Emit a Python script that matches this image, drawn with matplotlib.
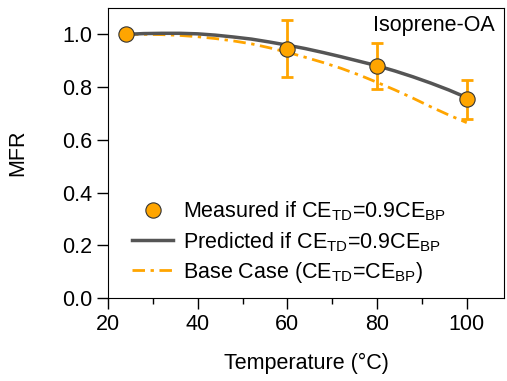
import matplotlib
matplotlib.use('Agg')
import matplotlib.pyplot as plt
from matplotlib.ticker import MultipleLocator, FormatStrFormatter

plt.rcParams['font.family'] = ['Liberation Sans', 'DejaVu Sans']
plt.rcParams['mathtext.fontset'] = 'custom'
plt.rcParams['mathtext.rm'] = 'Liberation Sans'
plt.rcParams['font.size'] = 15.5

# measured MFR with uncertainty
t_meas = [24, 60, 80, 100]
mfr_meas = [1.0, 0.945, 0.879, 0.753]
mfr_err = [0.0, 0.108, 0.087, 0.074]

# model curves
t_model = [24, 28, 32, 36, 40, 44, 48, 52, 56, 60,
           64, 68, 72, 76, 80, 84, 88, 92, 96, 100]
mfr_pred = [1.000, 1.003, 1.004, 1.004, 1.002, 0.997, 0.990, 0.982, 0.971, 0.959,
            0.946, 0.931, 0.915, 0.898, 0.881, 0.861, 0.839, 0.815, 0.789, 0.760]
mfr_base = [1.000, 1.000, 0.999, 0.996, 0.991, 0.984, 0.975, 0.964, 0.949, 0.932,
            0.913, 0.893, 0.871, 0.846, 0.818, 0.789, 0.758, 0.725, 0.694, 0.665]

orange = '#FFA500'
gray = '#555555'

fig = plt.figure(figsize=(5.07, 3.81), dpi=100)
ax = fig.add_axes([0.213, 0.218, 0.781, 0.761])

ax.plot(t_model, mfr_base, color=orange, lw=2, dashes=[4.5, 2, 1.2, 2],
        label=r'Base Case (CE$_{\mathrm{TD}}$=CE$_{\mathrm{BP}}$)', zorder=2)
ax.plot(t_model, mfr_pred, color=gray, lw=2.5,
        label=r'Predicted if CE$_{\mathrm{TD}}$=0.9CE$_{\mathrm{BP}}$', zorder=3)
ax.errorbar(t_meas, mfr_meas, yerr=mfr_err, fmt='none', ecolor=orange,
            elinewidth=2, capsize=4, capthick=2, zorder=1)
ax.plot(t_meas, mfr_meas, 'o', ms=11, mfc=orange, mec='#333333', mew=0.8,
        label=r'Measured if CE$_{\mathrm{TD}}$=0.9CE$_{\mathrm{BP}}$', zorder=4)

ax.set_xlim(20, 108.3)
ax.set_ylim(0, 1.1)
ax.xaxis.set_major_locator(MultipleLocator(20))
ax.xaxis.set_minor_locator(MultipleLocator(10))
ax.yaxis.set_major_locator(MultipleLocator(0.2))
ax.yaxis.set_major_formatter(FormatStrFormatter('%.1f'))
ax.tick_params(direction='out', length=8, width=1, pad=3.5)
ax.tick_params(which='minor', direction='out', length=4, width=1)

ax.set_xlabel('Temperature (°C)', labelpad=13)
ax.set_ylabel('MFR', labelpad=24)

ax.text(0.977, 0.938, 'Isoprene-OA', transform=ax.transAxes, ha='right', va='center')

h, l = ax.get_legend_handles_labels()
ax.legend([h[2], h[1], h[0]], [l[2], l[1], l[0]], loc='lower left',
          bbox_to_anchor=(0.04, 0.015), frameon=False, handlelength=1.9,
          labelspacing=0.3, handletextpad=0.45, borderaxespad=0)

fig.savefig('out.png', dpi=100)
